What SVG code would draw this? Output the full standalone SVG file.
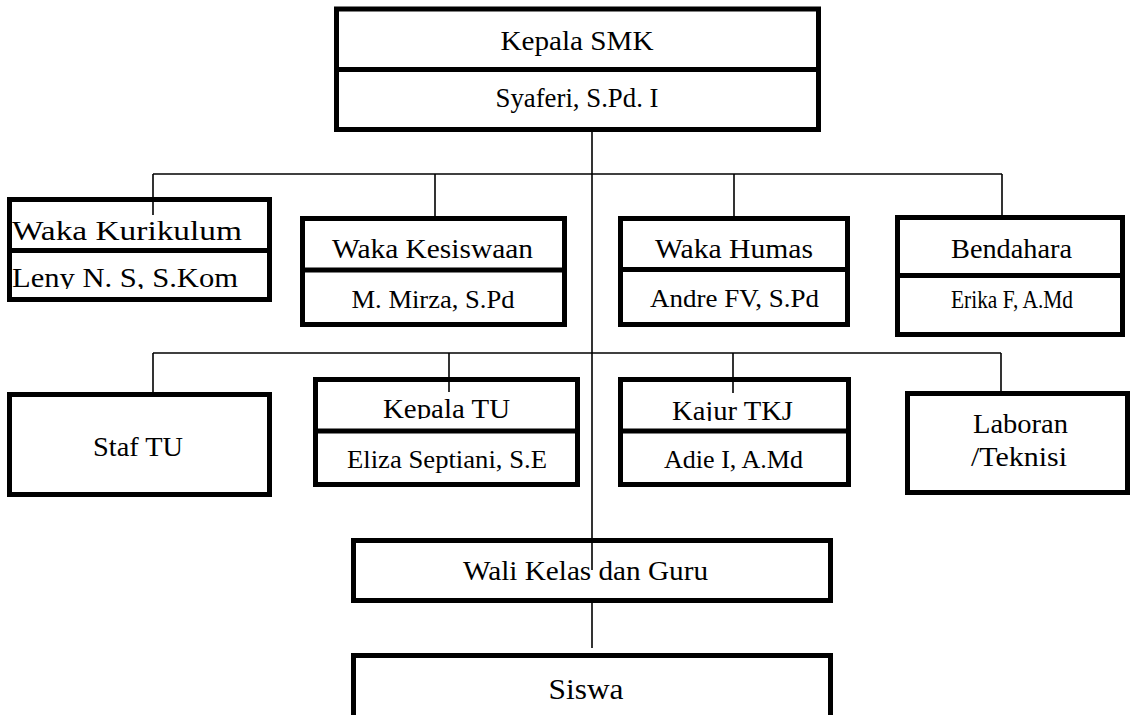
<svg xmlns="http://www.w3.org/2000/svg" width="1138" height="715" viewBox="0 0 1138 715">
<style>
.box{fill:#fff;stroke:#000;stroke-width:5}
.div{stroke:#000;stroke-width:5}
.ln{stroke:#000;stroke-width:1.6;fill:none}
text{font-family:'Liberation Serif','Times New Roman',serif;fill:#000;text-anchor:middle}
.t{font-size:28px}
.n{font-size:26px}
</style>
<defs>
<clipPath id="c1"><rect x="0" y="0" width="1138" height="289"/></clipPath>
<clipPath id="c2"><rect x="0" y="0" width="1138" height="419"/></clipPath>
<clipPath id="c3"><rect x="0" y="0" width="1138" height="421"/></clipPath>
</defs>
<rect width="1138" height="715" fill="#fff"/>

<g id="connectors">
<line class="ln" x1="592" y1="132" x2="592" y2="570"/>
<line class="ln" x1="153" y1="174" x2="1002" y2="174"/>
<line class="ln" x1="153" y1="174" x2="153" y2="215"/>
<line class="ln" x1="435" y1="174" x2="435" y2="216"/>
<line class="ln" x1="734" y1="174" x2="734" y2="216"/>
<line class="ln" x1="1002" y1="174" x2="1002" y2="215"/>
<line class="ln" x1="153" y1="353" x2="1001" y2="353"/>
<line class="ln" x1="153" y1="353" x2="153" y2="392"/>
<line class="ln" x1="449" y1="353" x2="449" y2="392"/>
<line class="ln" x1="733" y1="353" x2="733" y2="393"/>
<line class="ln" x1="1001" y1="353" x2="1001" y2="391"/>
<line class="ln" x1="592" y1="594" x2="592" y2="648"/>
</g>

<g id="kepala-smk">
<rect class="box" x="336.5" y="9" width="482" height="120.5"/>
<line class="div" x1="336.5" y1="69.5" x2="818.5" y2="69.5"/>
<text class="t" x="577" y="50" textLength="153" lengthAdjust="spacingAndGlyphs">Kepala SMK</text>
<text x="577" y="107" font-size="27" textLength="163" lengthAdjust="spacingAndGlyphs">Syaferi, S.Pd. I</text>
</g>

<g id="waka-kurikulum">
<rect class="box" x="9.5" y="199.5" width="260" height="100"/>
<line class="div" x1="9.5" y1="250.5" x2="269.5" y2="250.5"/>
<text class="t" x="127" y="240" textLength="230" lengthAdjust="spacingAndGlyphs">Waka Kurikulum</text>
<text class="t" x="125" y="287" textLength="226" lengthAdjust="spacingAndGlyphs" clip-path="url(#c1)">Leny N. S, S.Kom</text>
</g>
<line class="ln" x1="153" y1="199" x2="153" y2="215"/>

<g id="waka-kesiswaan">
<rect class="box" x="302.5" y="218.5" width="262" height="106"/>
<line class="div" x1="302.5" y1="270" x2="564.5" y2="270"/>
<text class="t" x="432.5" y="258" textLength="201" lengthAdjust="spacingAndGlyphs">Waka Kesiswaan</text>
<text class="n" x="433" y="308" textLength="163" lengthAdjust="spacingAndGlyphs">M. Mirza, S.Pd</text>
</g>

<g id="waka-humas">
<rect class="box" x="620.5" y="218.5" width="227" height="106"/>
<line class="div" x1="620.5" y1="269.5" x2="847.5" y2="269.5"/>
<text class="t" x="734" y="258" textLength="158" lengthAdjust="spacingAndGlyphs">Waka Humas</text>
<text class="n" x="734.5" y="307" textLength="169" lengthAdjust="spacingAndGlyphs">Andre FV, S.Pd</text>
</g>

<g id="bendahara">
<rect class="box" x="897.5" y="217.5" width="225" height="117"/>
<line class="div" x1="897.5" y1="275.5" x2="1122.5" y2="275.5"/>
<text class="t" x="1011.5" y="258" textLength="121" lengthAdjust="spacingAndGlyphs">Bendahara</text>
<text class="n" x="1012" y="308" textLength="122" lengthAdjust="spacingAndGlyphs">Erika F, A.Md</text>
</g>

<g id="staf-tu">
<rect class="box" x="9.5" y="394.5" width="260" height="100"/>
<text class="t" x="138" y="456" textLength="90" lengthAdjust="spacingAndGlyphs">Staf TU</text>
</g>

<g id="kepala-tu">
<rect class="box" x="315.5" y="379.5" width="262" height="105"/>
<line class="div" x1="315.5" y1="431" x2="577.5" y2="431"/>
<text class="t" x="446.5" y="418" textLength="127" lengthAdjust="spacingAndGlyphs" clip-path="url(#c2)">Kepala TU</text>
<text class="n" x="447" y="468" textLength="200" lengthAdjust="spacingAndGlyphs">Eliza Septiani, S.E</text>
</g>
<line class="ln" x1="449" y1="380" x2="449" y2="392"/>

<g id="kajur-tkj">
<rect class="box" x="620.5" y="379.5" width="228" height="105"/>
<line class="div" x1="620.5" y1="431" x2="848.5" y2="431"/>
<text class="t" x="732.5" y="420" textLength="121" lengthAdjust="spacingAndGlyphs" clip-path="url(#c3)">Kajur TKJ</text>
<text class="n" x="733.5" y="468" textLength="139" lengthAdjust="spacingAndGlyphs">Adie I, A.Md</text>
</g>
<line class="ln" x1="733" y1="380" x2="733" y2="393"/>

<g id="laboran">
<rect class="box" x="907.5" y="393.5" width="220" height="99"/>
<text class="t" x="1020.5" y="433" textLength="95" lengthAdjust="spacingAndGlyphs">Laboran</text>
<text class="t" x="1019" y="466" textLength="96" lengthAdjust="spacingAndGlyphs">/Teknisi</text>
</g>

<g id="wali-kelas">
<rect class="box" x="353.5" y="540.5" width="477" height="60"/>
<text class="t" x="585.5" y="580" textLength="245" lengthAdjust="spacingAndGlyphs">Wali Kelas dan Guru</text>
</g>
<line class="ln" x1="592" y1="541" x2="592" y2="570"/>

<g id="siswa">
<rect class="box" x="353.5" y="655.5" width="477" height="70"/>
<text x="586" y="699" font-size="30" textLength="75" lengthAdjust="spacingAndGlyphs">Siswa</text>
</g>
</svg>
